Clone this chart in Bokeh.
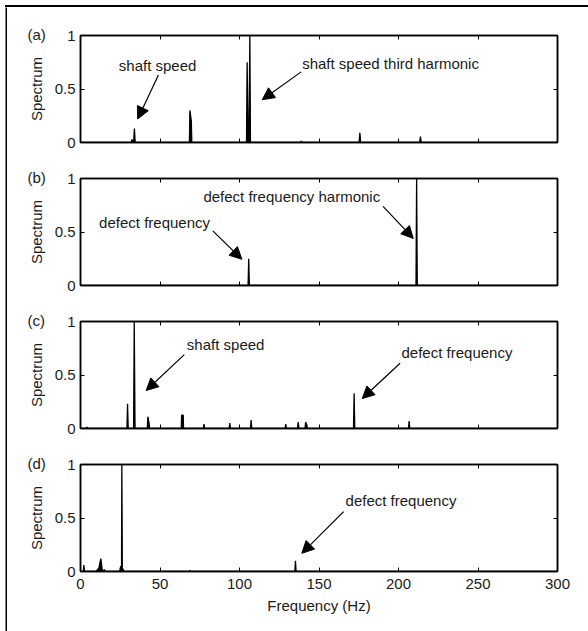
from bokeh.plotting import figure
from bokeh.layouts import column, row
from bokeh.models import (Range1d, FixedTicker, LinearAxis, Label, Arrow, NormalHead, Title,
                          NumeralTickFormatter, ColumnDataSource, CustomJSTickFormatter, Spacer)
from bokeh.embed import file_html
from bokeh.resources import INLINE

# ---------------- data ----------------
x_ticks = [0, 50, 100, 150, 200, 250, 300]
y_ticks = [0, 0.5, 1]
panel_names = ["(a)", "(b)", "(c)", "(d)"]

a_freq = [0, 31.9, 32.4, 32.9, 33.4, 33.9, 34.4, 68.5, 68.8, 69.7, 70.0,
          104.4, 104.8, 105.4, 106.1, 106.5, 106.9, 138.4, 138.9, 139.4,
          175.2, 175.7, 176.2, 213.3, 213.8, 214.3, 300]
a_amp = [0, 0, 0.03, 0, 0, 0.13, 0, 0, 0.30, 0.20, 0,
         0, 0.75, 0.05, 0.25, 1.0, 0, 0, 0.012, 0,
         0, 0.09, 0, 0, 0.055, 0, 0]

b_freq = [0, 105.4, 105.8, 106.2, 211.0, 211.4, 211.8, 300]
b_amp = [0, 0, 0.25, 0, 0, 1.0, 0, 0]

c_freq = [0, 3.6, 4.0, 4.4, 29.2, 29.6, 30.0, 33.4, 33.8, 34.3,
          42.0, 42.4, 43.2, 43.5, 63.4, 63.6, 64.6, 64.8, 77.3, 77.7, 78.1,
          93.5, 93.9, 94.3, 106.9, 107.3, 107.7, 128.7, 129.1, 129.5,
          136.4, 136.9, 137.4, 141.2, 141.6, 142.4, 142.7,
          171.7, 172.1, 172.5, 206.3, 206.7, 207.1, 300]
c_amp = [0, 0, 0.015, 0, 0, 0.23, 0, 0, 1.0, 0,
         0, 0.11, 0.04, 0, 0, 0.125, 0.125, 0, 0, 0.04, 0,
         0, 0.05, 0, 0, 0.08, 0, 0, 0.04, 0,
         0, 0.06, 0, 0, 0.06, 0.03, 0,
         0, 0.33, 0, 0, 0.07, 0, 0]

d_freq = [0, 1.8, 2.1, 2.5, 9.8, 11.5, 12.8, 13.6, 14.6, 15.0, 15.4,
          24.6, 25.3, 25.8, 26.0, 26.3, 26.8, 27.4, 68.4, 68.8, 69.2,
          134.8, 135.2, 135.6, 162.6, 163.0, 163.4, 300]
d_amp = [0, 0, 0.06, 0, 0, 0.03, 0.12, 0.02, 0, 0.02, 0,
         0, 0.05, 0.02, 1.0, 0.03, 0.02, 0, 0, 0.012, 0,
         0, 0.10, 0, 0, 0.006, 0, 0]

# annotations: (text, text_x, text_y, arrow_x0, arrow_y0, arrow_x1, arrow_y1)
a_notes = [("shaft speed", 24.1, 0.72, 49, 0.63, 36, 0.22),
           ("shaft speed third harmonic", 139.4, 0.74, 138.8, 0.66, 114.3, 0.40)]
b_notes = [("defect frequency", 11.7, 0.59, 83.2, 0.51, 101.5, 0.245),
           ("defect frequency harmonic", 77.3, 0.83, 190.3, 0.74, 209.3, 0.44)]
c_notes = [("shaft speed", 66.9, 0.785, 65.3, 0.69, 41.3, 0.355),
           ("defect frequency", 201.9, 0.71, 201.0, 0.61, 177.2, 0.28)]
d_notes = [("defect frequency", 166.7, 0.66, 165.5, 0.56, 139.2, 0.17)]

FONT = "Liberation Sans"
FS = "15px"
TXT = "#1a1a1a"

panels = [(a_freq, a_amp, a_notes), (b_freq, b_amp, b_notes),
          (c_freq, c_amp, c_notes), (d_freq, d_amp, d_notes)]


def style_axis(ax, ticks, show_labels):
    ax.ticker = FixedTicker(ticks=ticks)
    ax.axis_line_width = 1.5
    ax.axis_line_color = "black"
    ax.major_tick_in = 4
    ax.major_tick_out = 0
    ax.minor_tick_in = 0
    ax.minor_tick_out = 0
    ax.major_tick_line_color = "black"
    ax.major_tick_line_width = 1
    ax.major_label_text_font = FONT
    ax.major_label_text_color = TXT
    ax.axis_label_text_font = FONT
    ax.axis_label_text_font_style = "normal"
    ax.axis_label_text_font_size = FS
    ax.axis_label_text_color = TXT
    if show_labels:
        ax.major_label_text_font_size = FS
    else:
        ax.formatter = CustomJSTickFormatter(code="return '';")
        ax.major_label_text_font_size = "1px"
        ax.major_label_standoff = 0


def rule(w, h):
    """A solid black strip used for the outer frame of the figure."""
    r = figure(width=w, height=h, output_backend="svg", toolbar_location=None,
               x_axis_location=None, y_axis_location=None, min_border=0,
               background_fill_color="black", border_fill_color="black",
               outline_line_color=None, x_range=Range1d(0, 1), y_range=Range1d(0, 1))
    r.xgrid.visible = False
    r.ygrid.visible = False
    return r


heights = [144, 143, 143, 186]
tops = [28, 27, 27, 27]
bottoms = [9, 9, 9, 52]

figs = []
for i, (fr, am, notes) in enumerate(panels):
    assert len(fr) == len(am)
    last = i == 3
    p = figure(width=572, height=heights[i],
               x_range=Range1d(0, 300), y_range=Range1d(0, 1),
               output_backend="svg", toolbar_location=None,
               min_border_left=73, min_border_right=22, min_border_top=tops[i],
               min_border_bottom=bottoms[i])
    p.xgrid.visible = False
    p.ygrid.visible = False
    p.outline_line_color = "black"
    p.outline_line_width = 1.5
    p.background_fill_color = "white"
    p.border_fill_color = "white"

    src = ColumnDataSource(dict(f=fr, a=am))
    p.varea(x="f", y1=0, y2="a", source=src, fill_color="black")
    p.line(x="f", y="a", source=src, line_color="black", line_width=1.3)

    xb = p.xaxis[0]
    style_axis(xb, x_ticks, last)
    if last:
        xb.major_label_standoff = 7
        xb.axis_label = "Frequency (Hz)"
        xb.axis_label_standoff = 5
    yl = p.yaxis[0]
    style_axis(yl, y_ticks, True)
    yl.formatter = NumeralTickFormatter(format="0.[0]")
    yl.major_label_standoff = 5
    yl.axis_label = "Spectrum"
    yl.axis_label_standoff = 7

    xt = LinearAxis()
    style_axis(xt, x_ticks, False)
    p.add_layout(xt, "above")
    yr = LinearAxis()
    style_axis(yr, y_ticks, False)
    p.add_layout(yr, "right")

    # panel letter, placed as a left-aligned title shifted into the left border
    p.add_layout(Title(text=panel_names[i], align="left", offset=-53, text_font=FONT,
                       text_font_size=FS, text_font_style="normal",
                       text_color=TXT, standoff=-14), "above")

    for (t, tx, ty, x0, y0, x1, y1) in notes:
        p.add_layout(Label(x=tx, y=ty, text=t, text_align="left", text_baseline="middle",
                           text_font=FONT, text_font_size=FS, text_color=TXT))
        p.add_layout(Arrow(x_start=x0, y_start=y0, x_end=x1, y_end=y1,
                           line_color="black", line_width=1.2,
                           end=NormalHead(size=12, fill_color="black", line_color="black")))
    figs.append(p)

top_line = Spacer(width=583, height=2, styles={"background-color": "black"})
framed = column(top_line, row(rule(2, 624), column(*figs, spacing=0), spacing=0),
                spacing=0)
layout = column(Spacer(width=1, height=5),
                row(Spacer(width=5, height=1), framed, spacing=0),
                spacing=0)

open("out.html", "w").write(file_html(layout, INLINE))
